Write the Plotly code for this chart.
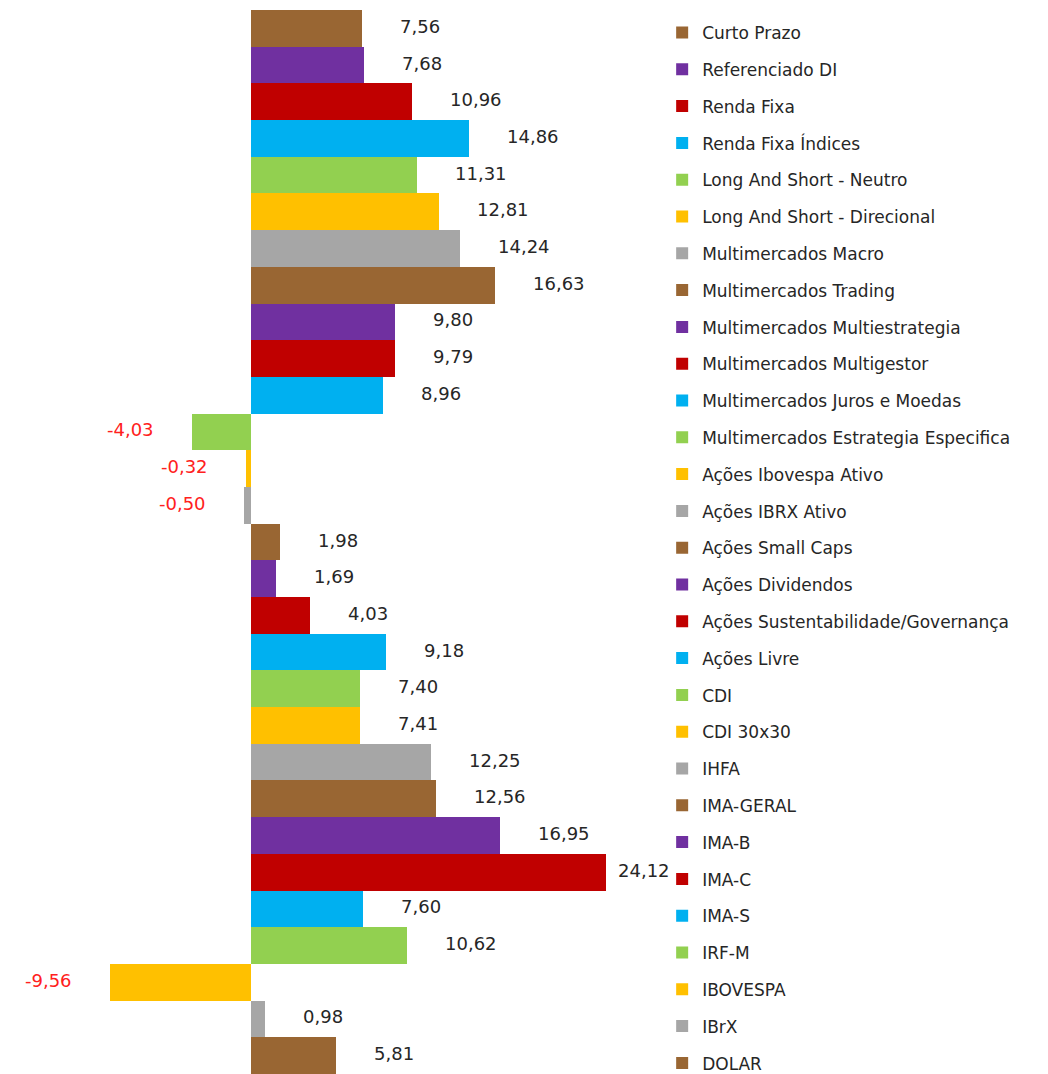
import plotly.graph_objects as go

funds = [
    "Curto Prazo", "Referenciado DI", "Renda Fixa", "Renda Fixa Índices",
    "Long And Short - Neutro", "Long And Short - Direcional",
    "Multimercados Macro", "Multimercados Trading",
    "Multimercados Multiestrategia", "Multimercados Multigestor",
    "Multimercados Juros e Moedas", "Multimercados Estrategia Especifica",
    "Ações Ibovespa Ativo", "Ações IBRX Ativo", "Ações Small Caps",
    "Ações Dividendos", "Ações Sustentabilidade/Governança", "Ações Livre",
    "CDI", "CDI 30x30", "IHFA", "IMA-GERAL", "IMA-B", "IMA-C", "IMA-S",
    "IRF-M", "IBOVESPA", "IBrX", "DOLAR",
]
returns = [
    7.56, 7.68, 10.96, 14.86, 11.31, 12.81, 14.24, 16.63, 9.80, 9.79,
    8.96, -4.03, -0.32, -0.50, 1.98, 1.69, 4.03, 9.18, 7.40, 7.41,
    12.25, 12.56, 16.95, 24.12, 7.60, 10.62, -9.56, 0.98, 5.81,
]
palette = ["#996633", "#7030A0", "#C00000", "#00B0F0", "#92D050", "#FFC000", "#A6A6A6"]

FONT = "DejaVu Sans"
W, H = 1040, 1066
R_MARGIN = 388
X_RANGE = [-16.53, 27.82]

# pixels per unit along x, used to keep the value labels clear of the legend
plot_w = W - R_MARGIN
px_per_unit = plot_w / (X_RANGE[1] - X_RANGE[0])
label_w = 56

fig = go.Figure()
for i, (name, val) in enumerate(zip(funds, returns)):
    fig.add_trace(
        go.Bar(
            x=[val],
            y=[name],
            orientation="h",
            name=name,
            legendgroup=name,
            width=1.0,
            marker=dict(color=palette[i % len(palette)], line=dict(width=0)),
            hovertemplate="%{y}: %{x:.2f}<extra></extra>",
        )
    )
    label = f"{val:.2f}".replace(".", ",")
    neg = val < 0
    if neg:
        shift = -36
    else:
        room = plot_w + 12 - (val - X_RANGE[0]) * px_per_unit - label_w
        shift = max(2, min(36, room))
    fig.add_annotation(
        x=val,
        y=name,
        text=label,
        showarrow=False,
        xanchor="right" if neg else "left",
        xshift=shift,
        yshift=2,
        font=dict(family=FONT, size=18, color="#FF2020" if neg else "#262626"),
    )

fig.update_xaxes(
    range=X_RANGE,
    showgrid=False,
    zeroline=False,
    showticklabels=False,
    showline=False,
)
fig.update_yaxes(
    categoryorder="array",
    categoryarray=funds,
    range=[len(funds) - 0.5, -0.5],
    showticklabels=False,
    showgrid=False,
    zeroline=False,
)

fig.update_layout(
    width=W,
    height=H,
    barmode="overlay",
    bargap=0,
    plot_bgcolor="white",
    paper_bgcolor="white",
    font=dict(family=FONT, color="#262626"),
    margin=dict(l=0, r=R_MARGIN, t=2, b=0),
    legend=dict(
        xref="container",
        yref="container",
        x=0.629,
        y=0.9935,
        xanchor="left",
        yanchor="top",
        maxheight=H,
        font=dict(family=FONT, size=17, color="#262626"),
        tracegroupgap=11.7,
        itemclick=False,
        bgcolor="rgba(0,0,0,0)",
    ),
)

fig.write_html("out.html")
